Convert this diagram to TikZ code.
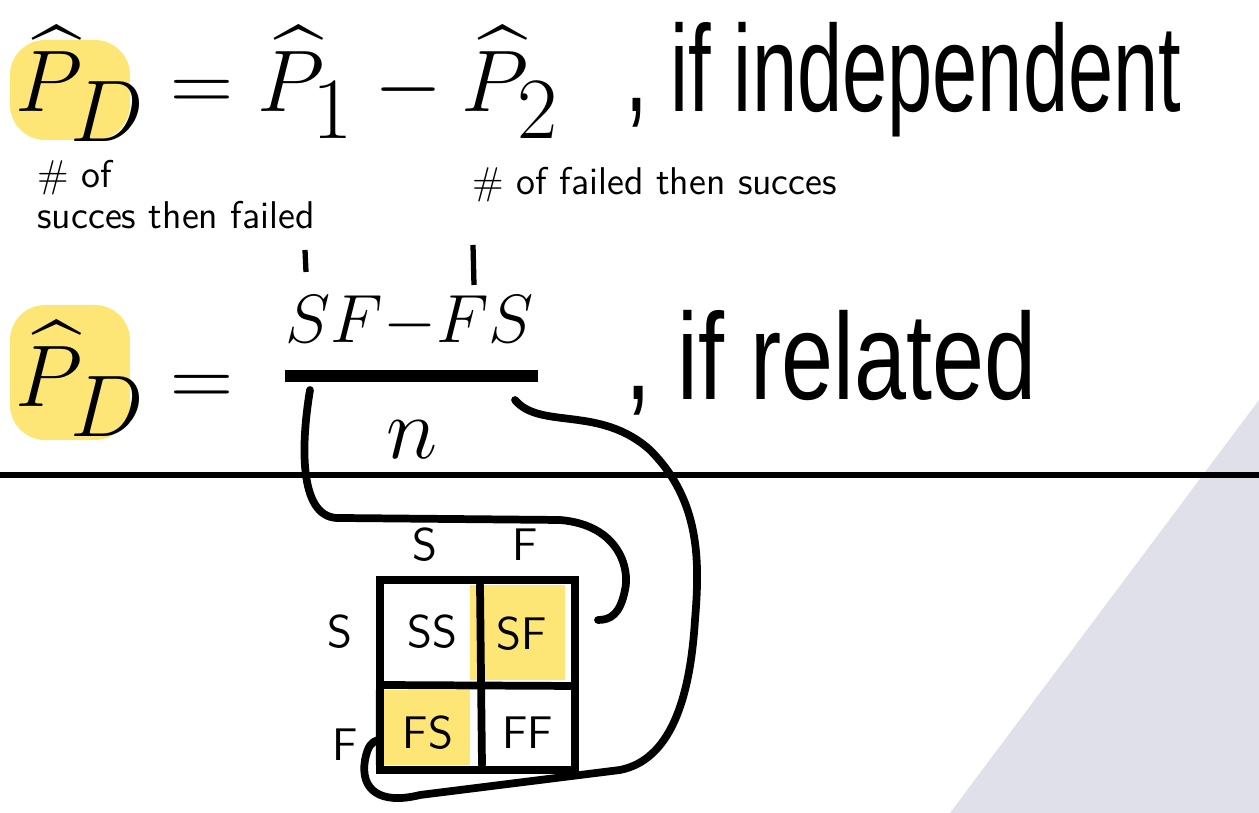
\documentclass[tikz,border=0pt]{standalone}
\usepackage{fontspec}
\usepackage{amsmath}
\newfontfamily\condA[FakeStretch=0.66]{Liberation Sans}
\newfontfamily\condB[FakeStretch=0.76]{Liberation Sans}
\begin{document}
\begin{tikzpicture}[x=0.01cm,y=-0.01cm]
\tikzset{hand/.style={line width=2.2pt,line cap=round,line join=round},
 hl/.style={fill=yellow!70!orange,opacity=0.55,draw=none},
 note/.style={font=\sffamily\fontsize{11}{12}\selectfont,anchor=west}}
\useasboundingbox (0,0) rectangle (1259,813);
\fill[blue!20!gray!20] (1259,400) -- (1259,813) -- (950,813) -- cycle;
% highlights
\fill[hl,rounded corners=10] (10,40) rectangle (130,140);
\fill[hl,rounded corners=10] (10,305) rectangle (130,440);
\fill[hl] (470,585) rectangle (565,680);
\fill[hl] (375,690) rectangle (470,765);
% formulas
\node[anchor=base west,inner sep=0,font=\fontsize{62}{66}\selectfont] (f1) at (15,112)
 {$\widehat P_D=\widehat P_1-\widehat P_2$};
\node[anchor=base west,inner sep=0,font=\condA\fontsize{35}{40}\selectfont] (t1) at (625,112) {, if independent};
\node[anchor=base west,inner sep=0,font=\fontsize{62}{66}\selectfont] (f2) at (15,407) {$\widehat P_D=$};
\node[inner sep=0,font=\fontsize{44}{50}\selectfont] (num) at (410,322) {\scalebox{0.78}{$SF{-}FS$}};
\node[inner sep=0,font=\fontsize{44}{50}\selectfont] (den) at (412,440) {$n$};
\draw[line width=3.5pt] (285,376) -- (538,376);
\node[anchor=base west,inner sep=0,font=\condB\fontsize{35}{40}\selectfont] (t2) at (625,400) {, if related};
% notes
\node[note] (n1) at (25,178) {\# of};
\node[note] (n2) at (25,215) {succes then failed};
\node[note] (n3) at (460,185) {\# of failed then succes};
\draw[line width=1.5pt] (305,250) -- (306,272);
\draw[line width=1.5pt] (473,245) -- (474,285);
% divider
\draw[line width=1.5pt] (0,475) -- (1259,475);
% grid
\draw[line width=2.5pt] (380,580) rectangle (575,770);
\draw[hand] (480,585) -- (482,765);
\draw[hand] (380,685) -- (575,686);
\tikzset{gl/.style={font=\sffamily\fontsize{13}{14}\selectfont}}
\node[gl] (cs) at (425,545) {S};
\node[gl] (cf) at (525,545) {F};
\node[gl] (rs) at (340,632) {S};
\node[gl] (rf) at (345,745) {F};
\node[gl] (ss) at (432,632) {SS};
\node[gl] (sf) at (522,634) {SF};
\node[gl] (fs) at (428,733) {FS};
\node[gl] (ff) at (528,733) {FF};
% curves
\draw[hand] (310,390) .. controls (300,450) and (300,520) .. (340,518)
 -- (560,520) .. controls (620,525) and (630,570) .. (625,590)
 .. controls (620,615) and (610,620) .. (598,620);
\draw[hand] (515,400) .. controls (540,430) and (600,405) .. (650,450)
 .. controls (700,500) and (700,560) .. (695,620)
 .. controls (690,700) and (670,760) .. (620,770)
 -- (420,795) .. controls (380,805) and (360,790) .. (365,760)
 .. controls (368,745) and (372,742) .. (378,740);
\end{tikzpicture}
\end{document}
